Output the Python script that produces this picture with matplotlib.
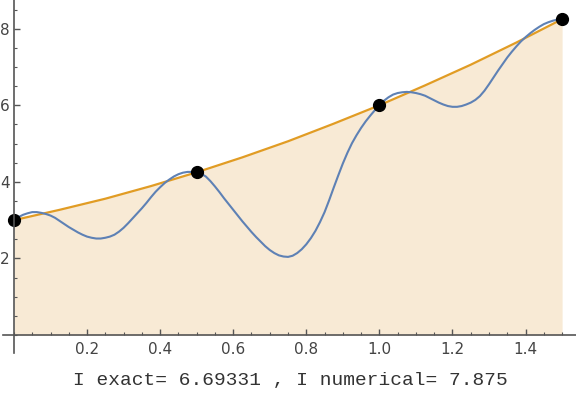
import numpy as np
import matplotlib.pyplot as plt
from matplotlib.ticker import MultipleLocator, FixedLocator

# nodos de la regla (puntos negros)
x_nodos = [0.0, 0.5, 1.0, 1.5]
y_nodos = [3.0, 4.25, 6.0, 8.25]

# polinomio interpolante (curva naranja)
x_poli = [0.0, 0.125, 0.25, 0.375, 0.5, 0.625, 0.75, 0.875, 1.0, 1.125, 1.25, 1.375, 1.5]
y_poli = [3.0, 3.27, 3.56, 3.89, 4.25, 4.64, 5.06, 5.52, 6.0, 6.52, 7.06, 7.64, 8.25]

x_func = np.linspace(0, 1.5, 121)
y_func = [3.00, 3.08, 3.14, 3.18, 3.21, 3.21, 3.19, 3.16, 3.12, 3.06,
          2.98, 2.90, 2.82, 2.75, 2.68, 2.62, 2.57, 2.54, 2.52, 2.52,
          2.54, 2.57, 2.62, 2.70, 2.80, 2.92, 3.05, 3.18, 3.31, 3.45,
          3.60, 3.74, 3.86, 3.97, 4.06, 4.14, 4.20, 4.24, 4.26, 4.26,
          4.25, 4.21, 4.14, 4.02, 3.88, 3.73, 3.57, 3.42, 3.27, 3.12,
          2.97, 2.83, 2.69, 2.56, 2.44, 2.32, 2.22, 2.14, 2.08, 2.05,
          2.04, 2.07, 2.14, 2.24, 2.37, 2.53, 2.72, 2.95, 3.21, 3.52,
          3.85, 4.17, 4.48, 4.76, 5.01, 5.22, 5.41, 5.58, 5.73, 5.87,
          6.00, 6.12, 6.21, 6.28, 6.32, 6.34, 6.35, 6.34, 6.32, 6.29,
          6.25, 6.19, 6.13, 6.07, 6.02, 5.98, 5.96, 5.96, 5.98, 6.02,
          6.07, 6.14, 6.24, 6.38, 6.55, 6.73, 6.91, 7.08, 7.25, 7.40,
          7.54, 7.67, 7.78, 7.88, 7.97, 8.05, 8.12, 8.17, 8.21, 8.24,
          8.25]

x_ticks = [0.2, 0.4, 0.6, 0.8, 1.0, 1.2, 1.4]
y_ticks = [2, 4, 6, 8]
texto = "I exact= 6.69331 , I numerical= 7.875"

gris = "#555555"

fig = plt.figure(figsize=(5.76, 3.96), dpi=100)
ax = fig.add_axes([3 / 576, 1 - 353 / 396, 573 / 576, 353 / 396])

ax.fill_between(x_poli, 0, y_poli, color="#F8EAD5", lw=0, zorder=1)
ax.plot(x_func, y_func, color="#5E81B5", lw=1.5, zorder=3,
        solid_joinstyle="round", solid_capstyle="round")
ax.plot(x_poli, y_poli, color="#E19C24", lw=1.6, zorder=2)
ax.plot(x_nodos, y_nodos, "o", color="black", ms=8.5, zorder=4, clip_on=False)

ax.set_xlim(-0.03, 1.538)
ax.set_ylim(-0.47, 8.75)

# ejes estilo Mathematica, cruzando en el origen
for lado in ["top", "right"]:
    ax.spines[lado].set_visible(False)
ax.spines["left"].set_position(("data", 0))
ax.spines["bottom"].set_position(("data", 0))
for lado in ["left", "bottom"]:
    ax.spines[lado].set_color(gris)
    ax.spines[lado].set_linewidth(1.2)
    ax.spines[lado].set_zorder(5)

ax.xaxis.set_major_locator(FixedLocator(x_ticks))
ax.xaxis.set_minor_locator(MultipleLocator(0.05))
ax.yaxis.set_major_locator(FixedLocator(y_ticks))
ax.yaxis.set_minor_locator(MultipleLocator(0.5))
ax.set_xticklabels(["%.1f" % v for v in x_ticks])
ax.set_yticklabels([str(v) for v in y_ticks])
ax.tick_params(which="both", direction="in", color=gris, labelcolor="#444444", labelsize=11)
ax.tick_params(which="major", length=4, width=1)
ax.tick_params(which="minor", length=2.5, width=0.8)
ax.tick_params(axis="x", pad=5)
ax.tick_params(axis="y", pad=3)

fig.text(290 / 576, 1 - 381 / 396, texto, ha="center", va="center",
         family="Liberation Mono", fontsize=14, color="#333333")

fig.savefig("out.png", dpi=100)
